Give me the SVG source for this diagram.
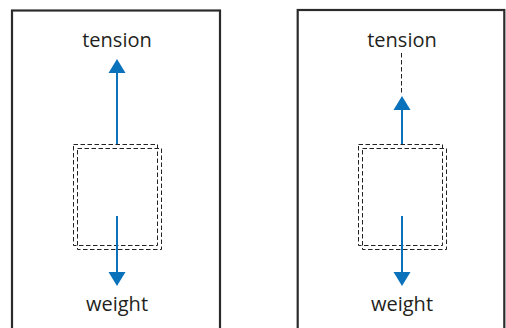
<svg xmlns="http://www.w3.org/2000/svg" width="506" height="328" viewBox="0 0 506 328">
<style>
.panel{fill:#fff;stroke:#2b2b2b;stroke-width:2.2}
.dash{fill:none;stroke:#222;stroke-width:1;stroke-dasharray:4.5,2.5}
.force{stroke:#0a72ba;stroke-width:2;fill:none}
.head{fill:#0a72ba}
.lbl{font-family:"Open Sans","Noto Sans",sans-serif;font-size:20px;fill:#231f20;text-anchor:middle}
</style>
<rect width="506" height="328" fill="#fff"/>
<g id="panel-left">
<rect class="panel" x="12" y="10.5" width="208" height="330"/>
<text class="lbl" x="117" y="47">tension</text>
<text class="lbl" x="117" y="311">weight</text>
</g>
<g id="box-left">
<rect class="dash" x="73.5" y="144.5" width="84" height="101"/>
<rect class="dash" x="77.5" y="148.5" width="84" height="101"/>
</g>
<g id="panel-right">
<rect class="panel" x="297.7" y="10" width="206.6" height="330"/>
<text class="lbl" x="402" y="47">tension</text>
<text class="lbl" x="402" y="311">weight</text>
</g>
<g id="box-right">
<rect class="dash" x="358.5" y="144.5" width="84" height="101"/>
<rect class="dash" x="362.5" y="148.5" width="84" height="101"/>
</g>
<g id="connectors">
<line class="force" x1="117" y1="144" x2="117" y2="72"/>
<polygon class="head" points="117,59 108.5,73 125.5,73"/>
<line class="force" x1="117" y1="216" x2="117" y2="273"/>
<polygon class="head" points="117,286 108.5,272 125.5,272"/>
<line class="dash" x1="401.5" y1="53" x2="401.5" y2="95"/>
<line class="force" x1="402" y1="144" x2="402" y2="109"/>
<polygon class="head" points="402,96 393.5,110 410.5,110"/>
<line class="force" x1="402" y1="216" x2="402" y2="273"/>
<polygon class="head" points="402,286 393.5,272 410.5,272"/>
</g>
</svg>
